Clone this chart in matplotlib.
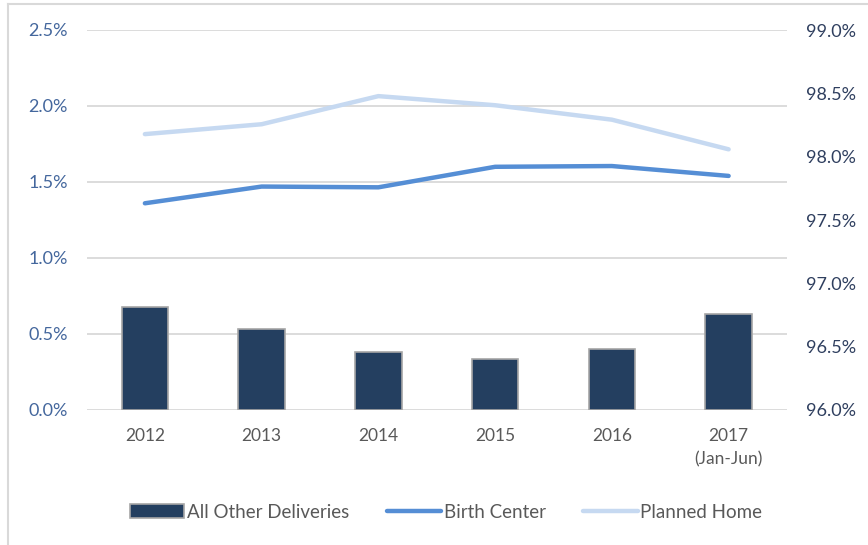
import matplotlib
matplotlib.use("Agg")
import matplotlib.pyplot as plt
import numpy as np
from matplotlib.lines import Line2D

plt.rcParams['font.family'] = ['Lato', 'DejaVu Sans']

categories = ["2012", "2013", "2014", "2015", "2016", "2017\n(Jan-Jun)"]
all_other = [96.81, 96.64, 96.46, 96.40, 96.48, 96.76]
birth_center = [1.36, 1.47, 1.465, 1.60, 1.605, 1.54]
planned_home = [1.815, 1.88, 2.065, 2.005, 1.91, 1.715]
left_ticks = [0.0, 0.5, 1.0, 1.5, 2.0, 2.5]
right_ticks = [96.0, 96.5, 97.0, 97.5, 98.0, 98.5, 99.0]

fig = plt.figure(figsize=(8.68, 5.45), dpi=100)
W, H = 868, 545
ax = fig.add_axes([86.5 / W, 1 - 410 / H, 700.5 / W, 380 / H])
ax2 = ax.twinx()

x = np.arange(len(categories))

bars = ax2.bar(x, [v - 96.0 for v in all_other], bottom=96.0, width=0.4,
               color="#243F60", edgecolor="#A6A6A6", linewidth=1.2,
               label="All Other Deliveries", zorder=3)
l1, = ax.plot(x, birth_center, color="#558ED5", linewidth=3.2,
              solid_capstyle="round", label="Birth Center", zorder=4)
l2, = ax.plot(x, planned_home, color="#C6D9F1", linewidth=3.2,
              solid_capstyle="round", label="Planned Home", zorder=4)

ax.set_xlim(-0.5, len(categories) - 0.5)
ax.set_ylim(0, 2.5)
ax2.set_ylim(96.0, 99.0)

ax.set_yticks(left_ticks)
ax.set_yticklabels([f"{t:.1f}%" for t in left_ticks])
ax2.set_yticks(right_ticks)
ax2.set_yticklabels([f"{t:.1f}%" for t in right_ticks])

ax.set_xticks(x)
ax.set_xticklabels(categories, linespacing=1.55)

ax.grid(axis="y", color="#D9D9D9", linewidth=1.3, zorder=0)
ax.set_axisbelow(True)
for a in (ax, ax2):
    for s in a.spines.values():
        s.set_visible(False)
ax.tick_params(axis="y", length=0, pad=13.5, labelsize=13, labelcolor="#44679D")
ax.tick_params(axis="x", length=0, pad=13, labelsize=12.5, labelcolor="#595959")
ax2.tick_params(axis="y", length=0, pad=14, labelsize=13, labelcolor="#2F3F5F")

fig.legend(handles=[bars, l1, l2], loc="center", bbox_to_anchor=(446 / W, 1 - 512 / H),
           ncol=3, frameon=False, fontsize=13.5, labelcolor="#595959",
           handlelength=2.9, handletextpad=0.15, columnspacing=2.0)

fig.add_artist(Line2D([7.5 / W, 7.5 / W], [0, 1 - 3.5 / H], transform=fig.transFigure,
                      color="#D9D9D9", linewidth=1.5))
fig.add_artist(Line2D([7.5 / W, 1], [1 - 3.5 / H, 1 - 3.5 / H], transform=fig.transFigure,
                      color="#D9D9D9", linewidth=1.5))

fig.savefig("out.png", dpi=100)
